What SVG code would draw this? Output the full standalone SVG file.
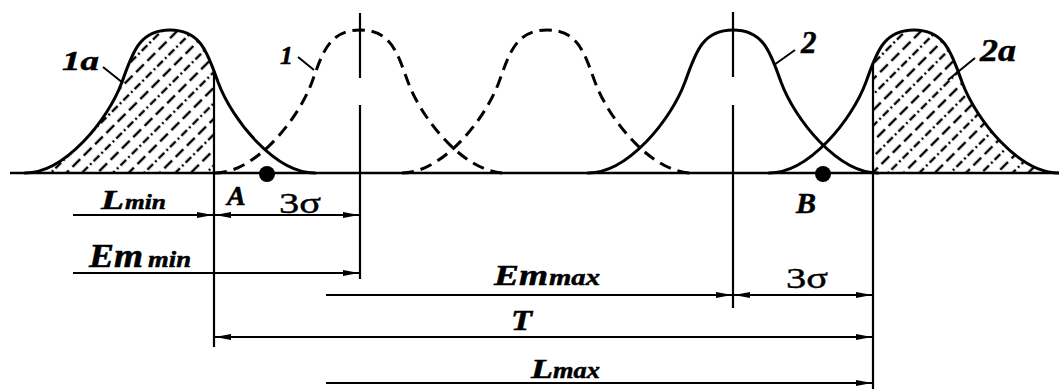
<svg xmlns="http://www.w3.org/2000/svg" width="1059" height="389" viewBox="0 0 1059 389">
<style>
.curve{fill:none;stroke:#000;stroke-width:3;stroke-linecap:round}
.dash{stroke-dasharray:12 7;stroke-linecap:butt}
.axis{fill:none;stroke:#000;stroke-width:2.5}
.ext{fill:none;stroke:#000;stroke-width:2.2}
.dim{fill:none;stroke:#000;stroke-width:2}
.lead{fill:none;stroke:#000;stroke-width:2}
.lab{font-family:"Liberation Serif","Times New Roman",serif;font-weight:bold;font-style:italic;fill:#000;stroke:#000;stroke-width:0.5}
.sig{font-family:"Liberation Serif","Times New Roman",serif;font-weight:normal;font-style:normal;fill:#000;stroke:#000;stroke-width:0.4}
</style>
<defs>
<path id="bell" d="M-145,173 C-105,173 -62,120 -48,82 C-38,55 -32,30 0,30 C32,30 38,55 48,82 C62,120 105,173 145,173"/>
<pattern id="hatch" patternUnits="userSpaceOnUse" width="22" height="16" patternTransform="rotate(45)">
<line x1="5" y1="0" x2="5" y2="16" stroke="#000" stroke-width="2.4" stroke-dasharray="11 5"/>
<line x1="16" y1="0" x2="16" y2="16" stroke="#000" stroke-width="2.4" stroke-dasharray="8 3 2 3"/>
</pattern>
<clipPath id="clipL"><rect x="0" y="0" width="214" height="173"/></clipPath>
<clipPath id="clipR"><rect x="873" y="0" width="186" height="173"/></clipPath>
<marker id="ah" viewBox="0 0 16 8" refX="16" refY="4" markerWidth="16" markerHeight="8" markerUnits="userSpaceOnUse" orient="auto-start-reverse">
<path d="M0,1 L16,4 L0,7 z" fill="#000"/>
</marker>
</defs>

<g id="axis">
<path class="axis" d="M10,173 H1059"/>
</g>

<g id="curve-1a">
<g clip-path="url(#clipL)"><use href="#bell" x="170" fill="url(#hatch)" stroke="none"/></g>
<use href="#bell" x="170" class="curve"/>
</g>
<g id="curve-1">
<use href="#bell" x="360" class="curve dash"/>
</g>
<g id="curve-mid">
<use href="#bell" x="547" class="curve dash"/>
</g>
<g id="curve-2">
<use href="#bell" x="733" class="curve"/>
</g>
<g id="curve-2a">
<g clip-path="url(#clipR)"><use href="#bell" x="914" fill="url(#hatch)" stroke="none"/></g>
<use href="#bell" x="914" class="curve"/>
</g>

<g id="extension-lines">
<path class="ext" d="M214,70 V347"/>
<path class="ext" d="M360,13 V78 M360,105 V279"/>
<path class="ext" d="M733,12 V77 M733,105 V308"/>
<path class="ext" d="M873,62 V389"/>
</g>

<g id="point-A"><circle cx="267" cy="174" r="8" fill="#000"/></g>
<g id="point-B"><circle cx="823" cy="174" r="8" fill="#000"/></g>

<g id="leaders">
<path class="lead" d="M103,67 L123,83"/>
<path class="lead" d="M298,57 L314,70"/>
<path class="lead" d="M795,50 L774,65"/>
<path class="lead" d="M975,58 L948,80"/>
</g>

<g id="connectors">
<path class="dim" d="M73,215 H213" marker-end="url(#ah)"/>
<path class="dim" d="M215,215 H359" marker-start="url(#ah)" marker-end="url(#ah)"/>
<path class="dim" d="M73,273 H359" marker-end="url(#ah)"/>
<path class="dim" d="M326,295 H732" marker-end="url(#ah)"/>
<path class="dim" d="M734,295 H872" marker-start="url(#ah)" marker-end="url(#ah)"/>
<path class="dim" d="M215,337 H872" marker-start="url(#ah)" marker-end="url(#ah)"/>
<path class="dim" d="M326,383 H872" marker-end="url(#ah)"/>
</g>

<g id="labels">
<text class="lab" x="62" y="70" font-size="28" textLength="37" lengthAdjust="spacingAndGlyphs">1a</text>
<text class="lab" x="280" y="64" font-size="26">1</text>
<text class="lab" x="801" y="53" font-size="31">2</text>
<text class="lab" x="980" y="61" font-size="31" textLength="36" lengthAdjust="spacingAndGlyphs">2a</text>
<text class="lab" x="227" y="205" font-size="28">A</text>
<text class="lab" x="796" y="213" font-size="30">B</text>
<text class="sig" x="279" y="213" font-size="30" textLength="42" lengthAdjust="spacingAndGlyphs">3σ</text>
<text class="sig" x="786" y="288" font-size="30" textLength="42" lengthAdjust="spacingAndGlyphs">3σ</text>
<text class="lab" y="209"><tspan x="101" font-size="28" textLength="23" lengthAdjust="spacingAndGlyphs">L</tspan><tspan x="125" font-size="22" textLength="41" lengthAdjust="spacingAndGlyphs">min</tspan></text>
<text class="lab" y="267"><tspan x="89" font-size="33" textLength="54" lengthAdjust="spacingAndGlyphs">Em</tspan><tspan x="148" font-size="23" textLength="43" lengthAdjust="spacingAndGlyphs">min</tspan></text>
<text class="lab" y="285"><tspan x="494" font-size="30" textLength="54" lengthAdjust="spacingAndGlyphs">Em</tspan><tspan x="549" font-size="24" textLength="51" lengthAdjust="spacingAndGlyphs">max</tspan></text>
<text class="lab" x="511" y="330" font-size="29" textLength="21" lengthAdjust="spacingAndGlyphs">T</text>
<text class="lab" y="378"><tspan x="531" font-size="27" textLength="22" lengthAdjust="spacingAndGlyphs">L</tspan><tspan x="553" font-size="23" textLength="47" lengthAdjust="spacingAndGlyphs">max</tspan></text>
</g>
</svg>
